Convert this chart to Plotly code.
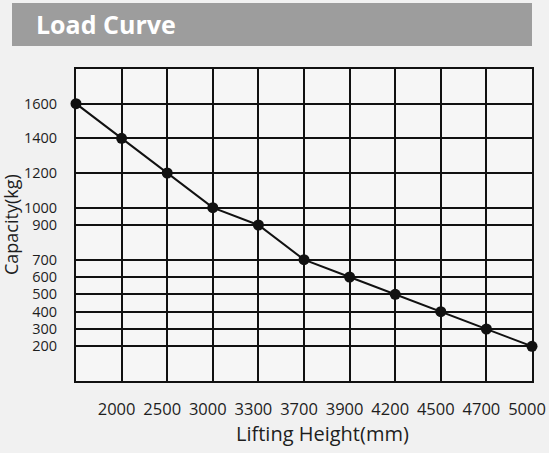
import plotly.graph_objects as go

# Data
height_labels = ["", "2000", "2500", "3000", "3300", "3700", "3900", "4200", "4500", "4700", "5000"]
capacity_kg = [1600, 1400, 1200, 1000, 900, 700, 600, 500, 400, 300, 200]
y_ticks = [200, 300, 400, 500, 600, 700, 900, 1000, 1200, 1400, 1600]

W, H = 549, 453
L, R, T, B = 76, 17, 69, 72
pw, ph = W - L - R, H - T - B

def px_x(p):
    return (p - L) / pw

def px_y(p):
    return (H - B - p) / ph

x_idx = list(range(len(capacity_kg)))

fig = go.Figure()
fig.add_trace(go.Scatter(
    x=x_idx, y=capacity_kg, mode="lines+markers",
    line=dict(color="#111111", width=2),
    marker=dict(color="#111111", size=11),
    cliponaxis=False, showlegend=False, hoverinfo="x+y",
))

font_family = "Open Sans, DejaVu Sans, sans-serif"

fig.update_layout(
    width=W, height=H,
    margin=dict(l=L, r=R, t=T, b=B, pad=0),
    paper_bgcolor="#f1f1f1",
    plot_bgcolor="#f6f6f6",
    font=dict(family=font_family, color="#1e1e1e"),
    xaxis=dict(
        range=[0, len(capacity_kg) - 1],
        tickmode="array",
        tickvals=x_idx[1:],
        ticktext=height_labels[1:],
        tickfont=dict(size=16.5, color="#1e1e1e"),
        showgrid=True, gridcolor="#111111", gridwidth=2,
        showline=True, linecolor="#111111", linewidth=2, mirror=True,
        zeroline=False, ticks="", ticklabelstandoff=12, ticklabelshift=-5,
        ticklabeloverflow="allow", automargin=False,
        fixedrange=True,
    ),
    yaxis=dict(
        range=[0, 1800],
        tickmode="array",
        tickvals=y_ticks,
        ticktext=[str(v) for v in y_ticks],
        tickfont=dict(size=14.5, color="#1e1e1e"),
        showgrid=True, gridcolor="#111111", gridwidth=2,
        showline=True, linecolor="#111111", linewidth=2, mirror=True,
        zeroline=False, ticks="", ticklabelstandoff=14,
        automargin=False,
        fixedrange=True,
    ),
    shapes=[dict(
        type="rect", xref="paper", yref="paper",
        x0=px_x(12), x1=px_x(532), y0=px_y(46), y1=px_y(3),
        fillcolor="#9d9d9d", line=dict(width=0), layer="below",
    )],
    annotations=[
        dict(text="<b>Load Curve</b>", xref="paper", yref="paper",
             x=px_x(34), y=px_y(24), xanchor="left", yanchor="middle",
             showarrow=False, font=dict(size=25, color="#ffffff", family=font_family)),
        dict(text="Lifting Height(mm)", xref="paper", yref="paper",
             x=px_x(322), y=px_y(433), xanchor="center", yanchor="middle",
             showarrow=False, font=dict(size=20, color="#1e1e1e", family=font_family)),
        dict(text="Capacity(kg)", xref="paper", yref="paper",
             x=px_x(11), y=px_y(225), xanchor="center", yanchor="middle",
             textangle=-90, showarrow=False,
             font=dict(size=18, color="#1e1e1e", family=font_family)),
    ],
)

fig.write_html("out.html", config={"displayModeBar": False},
               post_script="document.body.style.margin='0';document.body.style.padding='0';")
